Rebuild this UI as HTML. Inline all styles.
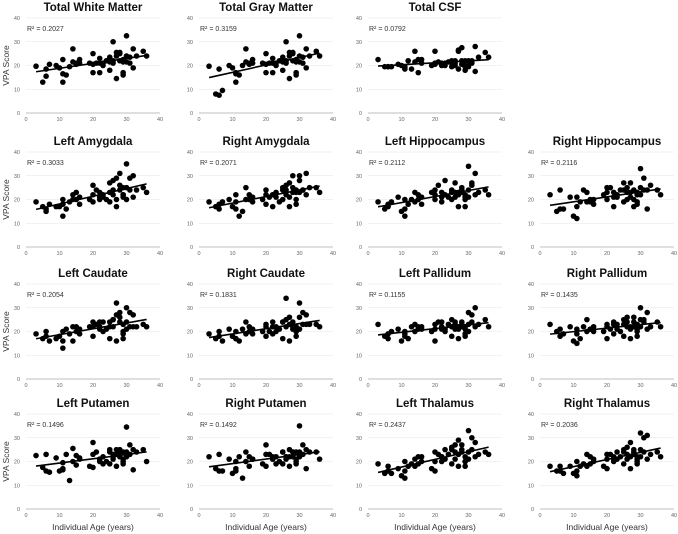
<!DOCTYPE html>
<html><head><meta charset="utf-8"><style>
body{margin:0;background:#fff;}
svg{display:block;font-family:"Liberation Sans",Arial,sans-serif;}
</style></head><body>
<svg id="chart" width="678" height="534" viewBox="0 0 678 534"></svg>
<script>
const ages=[3,5,6,6,7,9,10,11,11,11,12,13,14,14,15,15,16,16,19,20,20,20,21,22,22,22,23,23,24,25,25,25,26,26,26,27,27,27,28,28,28,29,29,29,29,30,30,30,31,31,32,32,33,35,36];
const panelTitles=["Total White Matter","Total Gray Matter","Total CSF","Left Amygdala","Right Amygdala","Left Hippocampus","Right Hippocampus","Left Caudate","Right Caudate","Left Pallidum","Right Pallidum","Left Putamen","Right Putamen","Left Thalamus","Right Thalamus"];
const r2Labels=["0.2027","0.3159","0.0792","0.3033","0.2071","0.2112","0.2116","0.2054","0.1831","0.1155","0.1435","0.1496","0.1492","0.2437","0.2036"];
const xTicks=[0,10,20,30,40];
const yTicks=[0,10,20,30,40];
const vWM=[19.7,13,15.5,18.5,20.5,20,19,22.5,13,16.5,16,19.5,27,21.5,21,20.5,22.5,21,21,25,17,20.5,21,17,23,21,21,20,22,23.5,18,21.5,30,22,21,14.5,24,25.5,25.5,25,22,22.5,21.5,17,16,32.5,24,21.5,21,23.5,27,19,24,26,24];
const vGM=[19.7,8,7.5,18.5,9.5,20,19,17,13,16.5,16,20,27,21.5,21,20.5,22.5,21,21,25,17,20.5,21,17,23,21,21,20,22,23.5,18,21.5,30,22,21,14.5,24,25.5,25.5,25,22,22.5,21.5,17,16,32.5,24,21.5,21,23.5,27,19,24,26,24];
const vCSF=[22.5,19.5,19.5,19.5,19.5,20.5,20,19,18.5,19.5,22,18.5,26,21.5,22.5,17,22.5,21,20,26,21,20.5,21.5,20,21,20.5,20,21,21.5,22,19.5,21,20,22,21,18.5,26,26.5,27.5,22,20.5,20,18,22,19.5,19.5,22,20,21,22,28,17.5,23.5,25.5,23.5];
const vLAmy=[19,17,15,16,18,17,17,20,13,18,16,19,22,20,23,20,18,21,20,26,19,22,24,20,21,23,22,21,20,23,19,27,28,22,24,17,20,29,24,31,26,25,22,21,22,35,25,20,24,29,30,21,24,25,23];
const vRAmy=[19,17,18,16,19,20,17,22,16,19,13,15,25,20,22,20,19,21,20,24,18,22,21,17,22,22,23,21,19,24,20,25,26,22,24,17,27,21,23,30,25,24,20,18,23,28,30,23,24,24,31,22,25,25,23];
const vLHip=[19,16,17,18,19,21,15,20,13,16,18,20,23,19,22,20,21,18,23,24,20,22,26,19,23,21,28,22,21,24,20,23,23,21,27,17,22,23,25,23,24,20,22,17,21,34,24,21,26,27,31,22,23,24,22];
const vRHip=[22,15,16,24,16,21,13,21,17,12,19,24,23,19,20,19,20,18,22,25,23,20,25,21,17,23,22,21,24,27,19,24,20,23,25,23,27,21,20,24,17,19,23,18,22,33,25,22,24,29,24,16,26,24,22];
const vLCau=[19,17,18,20,16,17,18,20,13,16,21,19,22,16,22,20,19,21,22,24,18,22,23,21,22,24,24,20,21,22,17,24,25,22,25,16,27,32,28,24,26,20,23,17,19,30,24,21,22,28,27,22,22,23,22];
const vRCau=[19,17,18,20,16,21,18,20,17,17,16,21,24,19,22,20,19,21,20,23,18,22,20,19,22,24,22,20,21,24,17,24,34,22,25,16,23,26,22,21,24,20,22,18,20,32,26,21,23,28,27,23,23,23,22];
const vLPal=[23,18,17,19,20,21,16,20,18,19,17,22,23,20,22,21,21,22,20,23,16,21,24,21,24,22,21,20,23,25,18,22,24,21,23,17,22,21,23,24,22,21,22,18,19,28,23,20,24,27,30,22,23,25,22];
const vRPal=[23,20,18,21,19,22,16,21,15,19,17,22,25,20,21,21,22,20,20,23,17,22,21,19,24,23,23,21,20,25,18,23,26,22,24,17,22,21,24,26,22,21,23,18,20,30,25,22,24,25,28,21,22,24,22];
const vLPut=[22.5,17.5,16,23,15.5,21.5,16,19.5,17,16.5,23,12,25.5,20,22.5,18.5,21.5,21,18,28,17.5,23,24,21,20,21,19,22,20,25,19,24,21,22,23,18,23,25,25,22,24,19,21,20,24,34.5,24,22,23,27,25,16.5,24,25,20];
const vRPut=[22,17,16,23,16,21,15,20,17,16,22,13,24,20,22,18,21,21,19,27,18,23,23,21,21,22,19,22,20,24,19,24,21,22,22,18,22,25,24,22,24,20,21,19,24,35,24,22,23,27,25,17,24,24,21];
const vLTha=[19,15,16,18,15,17,14,20,13,16,18,19,21,18,22,19,20,22,17,24,16,20,23,20,22,22,25,21,23,25,19,26,27,21,24,18,23,29,25,24,27,20,22,18,20,33,24,21,25,30,28,22,23,24,23];
const vRTha=[18,16,16,18,15,18,15,20,14,16,18,19,23,18,22,19,21,20,18,23,17,21,23,20,21,22,24,21,22,24,19,25,26,21,23,17,22,28,24,23,25,20,22,19,21,32,25,22,24,30,31,21,23,24,22];
const seriesValues=[vWM,vGM,vCSF,vLAmy,vRAmy,vLHip,vRHip,vLCau,vRCau,vLPal,vRPal,vLPut,vRPut,vLTha,vRTha];

const NS="http://www.w3.org/2000/svg";
const svg=document.getElementById('chart');
const colX=[26,199,368,540], rowY=[18,152,284,414], PW=134, PH=95;
const slots=[[0,0],[0,1],[0,2],[1,0],[1,1],[1,2],[1,3],[2,0],[2,1],[2,2],[2,3],[3,0],[3,1],[3,2],[3,3]];
function mk(tag,attrs,parent){const e=document.createElementNS(NS,tag);for(const k in attrs)e.setAttribute(k,attrs[k]);(parent||svg).appendChild(e);return e;}
function slug(s){return s.toLowerCase().replace(/[^a-z0-9]+/g,'-');}

seriesValues.forEach((vals,i)=>{
  const [r,c]=slots[i];
  const x0=colX[c], y0=rowY[r];
  const sx=v=>x0+v/40*PW, sy=v=>y0+PH-v/40*PH;
  const g=mk('g',{});
  
  
  const t=mk('text',{x:x0+PW/2,y:y0-7,'text-anchor':'middle','font-size':'11.5','font-weight':'bold',fill:'#111'},g);
  t.textContent=panelTitles[i];
  
  
  yTicks.forEach(v=>{
    const ln=mk('line',{x1:x0,x2:x0+PW,y1:sy(v),y2:sy(v),stroke:v===0?'#aaa':'#e6e6e6','stroke-width':v===0?0.8:0.6},g);
    
    
    const tl=mk('text',{x:x0-6,y:sy(v)+2,'text-anchor':'end','font-size':'5.5',fill:'#666'},g);
    tl.textContent=v;
    
    
  });
  xTicks.forEach(v=>{
    const tl=mk('text',{x:sx(v),y:y0+PH+8,'text-anchor':'middle','font-size':'5.5',fill:'#666'},g);
    tl.textContent=v;
    
    
  });
  const rt=mk('text',{x:x0+1,y:y0+13,'font-size':'7',fill:'#333'},g);
  rt.textContent='R² = '+r2Labels[i];
  
  
  vals.forEach((v,k)=>{
    const d=mk('circle',{cx:sx(ages[k]),cy:sy(v),r:2.8,fill:'#000'},g);
    
    
  });
  const n=vals.length;let mx=0,my=0;for(let k=0;k<n;k++){mx+=ages[k];my+=vals[k];}mx/=n;my/=n;
  let sxy=0,sxx=0;for(let k=0;k<n;k++){sxy+=(ages[k]-mx)*(vals[k]-my);sxx+=(ages[k]-mx)**2;}
  const b=sxy/sxx,a=my-b*mx;
  const xa=Math.min(...ages),xb=Math.max(...ages);
  const tr=mk('line',{x1:sx(xa),y1:sy(a+b*xa),x2:sx(xb),y2:sy(a+b*xb),stroke:'#000','stroke-width':1.6},g);
  
  
  if(c===0){
    const yt=mk('text',{x:9,y:y0+PH/2,'text-anchor':'middle','font-size':'8.5',fill:'#333',transform:'rotate(-90 9 '+(y0+PH/2)+')'},g);
    yt.textContent='VPA Score';
    
    
  }
  if(r===3){
    const xt=mk('text',{x:x0+PW/2,y:530,'text-anchor':'middle','font-size':'8.5',fill:'#333'},g);
    xt.textContent='Individual Age (years)';
    
    
  }
});
</script>
</body></html>
